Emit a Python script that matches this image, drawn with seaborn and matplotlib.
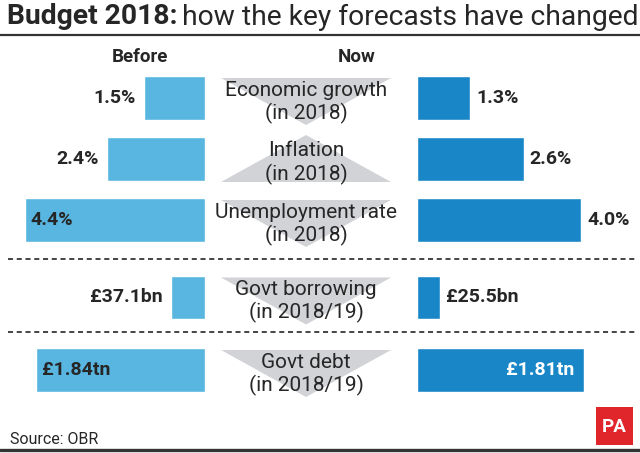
import matplotlib
matplotlib.use("Agg")
import matplotlib.pyplot as plt
from matplotlib.patches import Polygon, Rectangle
import seaborn as sns

# Budget 2018 forecasts, before and now
measures = ["Economic growth", "Inflation", "Unemployment rate", "Govt borrowing", "Govt debt"]
periods = ["(in 2018)", "(in 2018)", "(in 2018)", "(in 2018/19)", "(in 2018/19)"]
before = [1.5, 2.4, 4.4, 37.1, 1.84]
now = [1.3, 2.6, 4.0, 25.5, 1.81]
before_labels = ["1.5%", "2.4%", "4.4%", "£37.1bn", "£1.84tn"]
now_labels = ["1.3%", "2.6%", "4.0%", "£25.5bn", "£1.81tn"]
units = ["pct", "pct", "pct", "bn", "tn"]

sns.set_style("white")
plt.rcParams["font.family"] = ["Roboto", "DejaVu Sans"]

BEFORE_C = "#58b6e0"
NOW_C = "#1987c7"
ARROW_C = "#d2d3d7"
TEXT_C = "#262626"

W, H = 640, 453
LEFT_END, RIGHT_START = 205, 417
px_per_unit = {"pct": 41, "bn": 0.915, "tn": 92}
row_centers = [98, 159, 220, 297.5, 370]
PT = 72 / 100  # points per pixel

fig = plt.figure(figsize=(6.4, 4.53), dpi=100)

bg = fig.add_axes([0, 0, 1, 1])
bg.set_xlim(0, W)
bg.set_ylim(H, 0)
bg.axis("off")


def px_axes(x0, y0, x1, y1):
    ax = fig.add_axes([x0 / W, 1 - y1 / H, (x1 - x0) / W, (y1 - y0) / H])
    ax.axis("off")
    return ax


# title
t1 = bg.text(7, 17, "Budget 2018:", fontsize=20.3, fontweight="bold", color=TEXT_C, va="center")
fig.canvas.draw()
x_end = t1.get_window_extent().x1
bg.text(x_end + 5, 17, "how the key forecasts have changed", fontsize=20.3, color=TEXT_C, va="center")
bg.plot([0, W], [35, 35], color="#333333", lw=1.6)
bg.plot([0, W], [450, 450], color="#333333", lw=2.4)
for y in [259, 332]:
    bg.plot([8, 636], [y, y], color="#444444", lw=1.4, ls=(0, (2.6, 1.9)))

bg.text(140, 57, "Before", fontsize=13.5, fontweight="bold", color=TEXT_C, ha="center", va="center")
bg.text(357, 57, "Now", fontsize=13.5, fontweight="bold", color=TEXT_C, ha="center", va="center")

for i, c in enumerate(row_centers):
    # arrow shows direction of change
    if now[i] < before[i]:
        pts = [(221, c - 20), (391, c - 20), (306, c + 27)]
    else:
        pts = [(221, c + 23), (391, c + 23), (306, c - 24)]
    bg.add_patch(Polygon(pts, closed=True, color=ARROW_C, lw=0))
    bg.text(306, c - 8, measures[i], fontsize=15, color=TEXT_C, ha="center", va="center")
    bg.text(306, c + 15, periods[i], fontsize=15, color=TEXT_C, ha="center", va="center")

    scale = px_per_unit[units[i]]

    axl = px_axes(0, c - 30.5, LEFT_END, c + 30.5)
    sns.barplot(x=[before[i]], y=[measures[i]], orient="h", color=BEFORE_C, saturation=1,
                width=0.71, errorbar=None, ax=axl)
    axl.set_xlim(LEFT_END / scale, 0)
    axl.set_ylim(0.5, -0.5)
    axl.axis("off")
    lab = before_labels[i]
    room = LEFT_END - before[i] * scale
    if room > len(lab) * 10 + 10:
        axl.annotate(lab, (before[i], 0), xytext=(-8 * PT, 0), textcoords="offset points",
                     ha="right", va="center", fontsize=14, fontweight="bold", color=TEXT_C)
    else:
        axl.annotate(lab, (before[i], 0), xytext=(6 * PT, 0), textcoords="offset points",
                     ha="left", va="center", fontsize=14, fontweight="bold", color=TEXT_C)

    axr = px_axes(RIGHT_START, c - 30.5, W, c + 30.5)
    sns.barplot(x=[now[i]], y=[measures[i]], orient="h", color=NOW_C, saturation=1,
                width=0.71, errorbar=None, ax=axr)
    axr.set_xlim(0, (W - RIGHT_START) / scale)
    axr.set_ylim(0.5, -0.5)
    axr.axis("off")
    lab = now_labels[i]
    room = W - RIGHT_START - now[i] * scale
    if room > len(lab) * 10 + 10:
        axr.annotate(lab, (now[i], 0), xytext=(6 * PT, 0), textcoords="offset points",
                     ha="left", va="center", fontsize=14, fontweight="bold", color=TEXT_C)
    else:
        axr.annotate(lab, (now[i], 0), xytext=(-9 * PT, 0), textcoords="offset points",
                     ha="right", va="center", fontsize=14, fontweight="bold", color="white")

bg.text(10, 439, "Source: OBR", fontsize=11.5, color=TEXT_C, va="center")
bg.add_patch(Rectangle((596, 407), 37, 38, color="#e0262b", lw=0))
bg.text(614.5, 427, "PA", fontsize=13.5, fontweight="bold", color="white", ha="center", va="center")

fig.savefig("out.png", dpi=100)
